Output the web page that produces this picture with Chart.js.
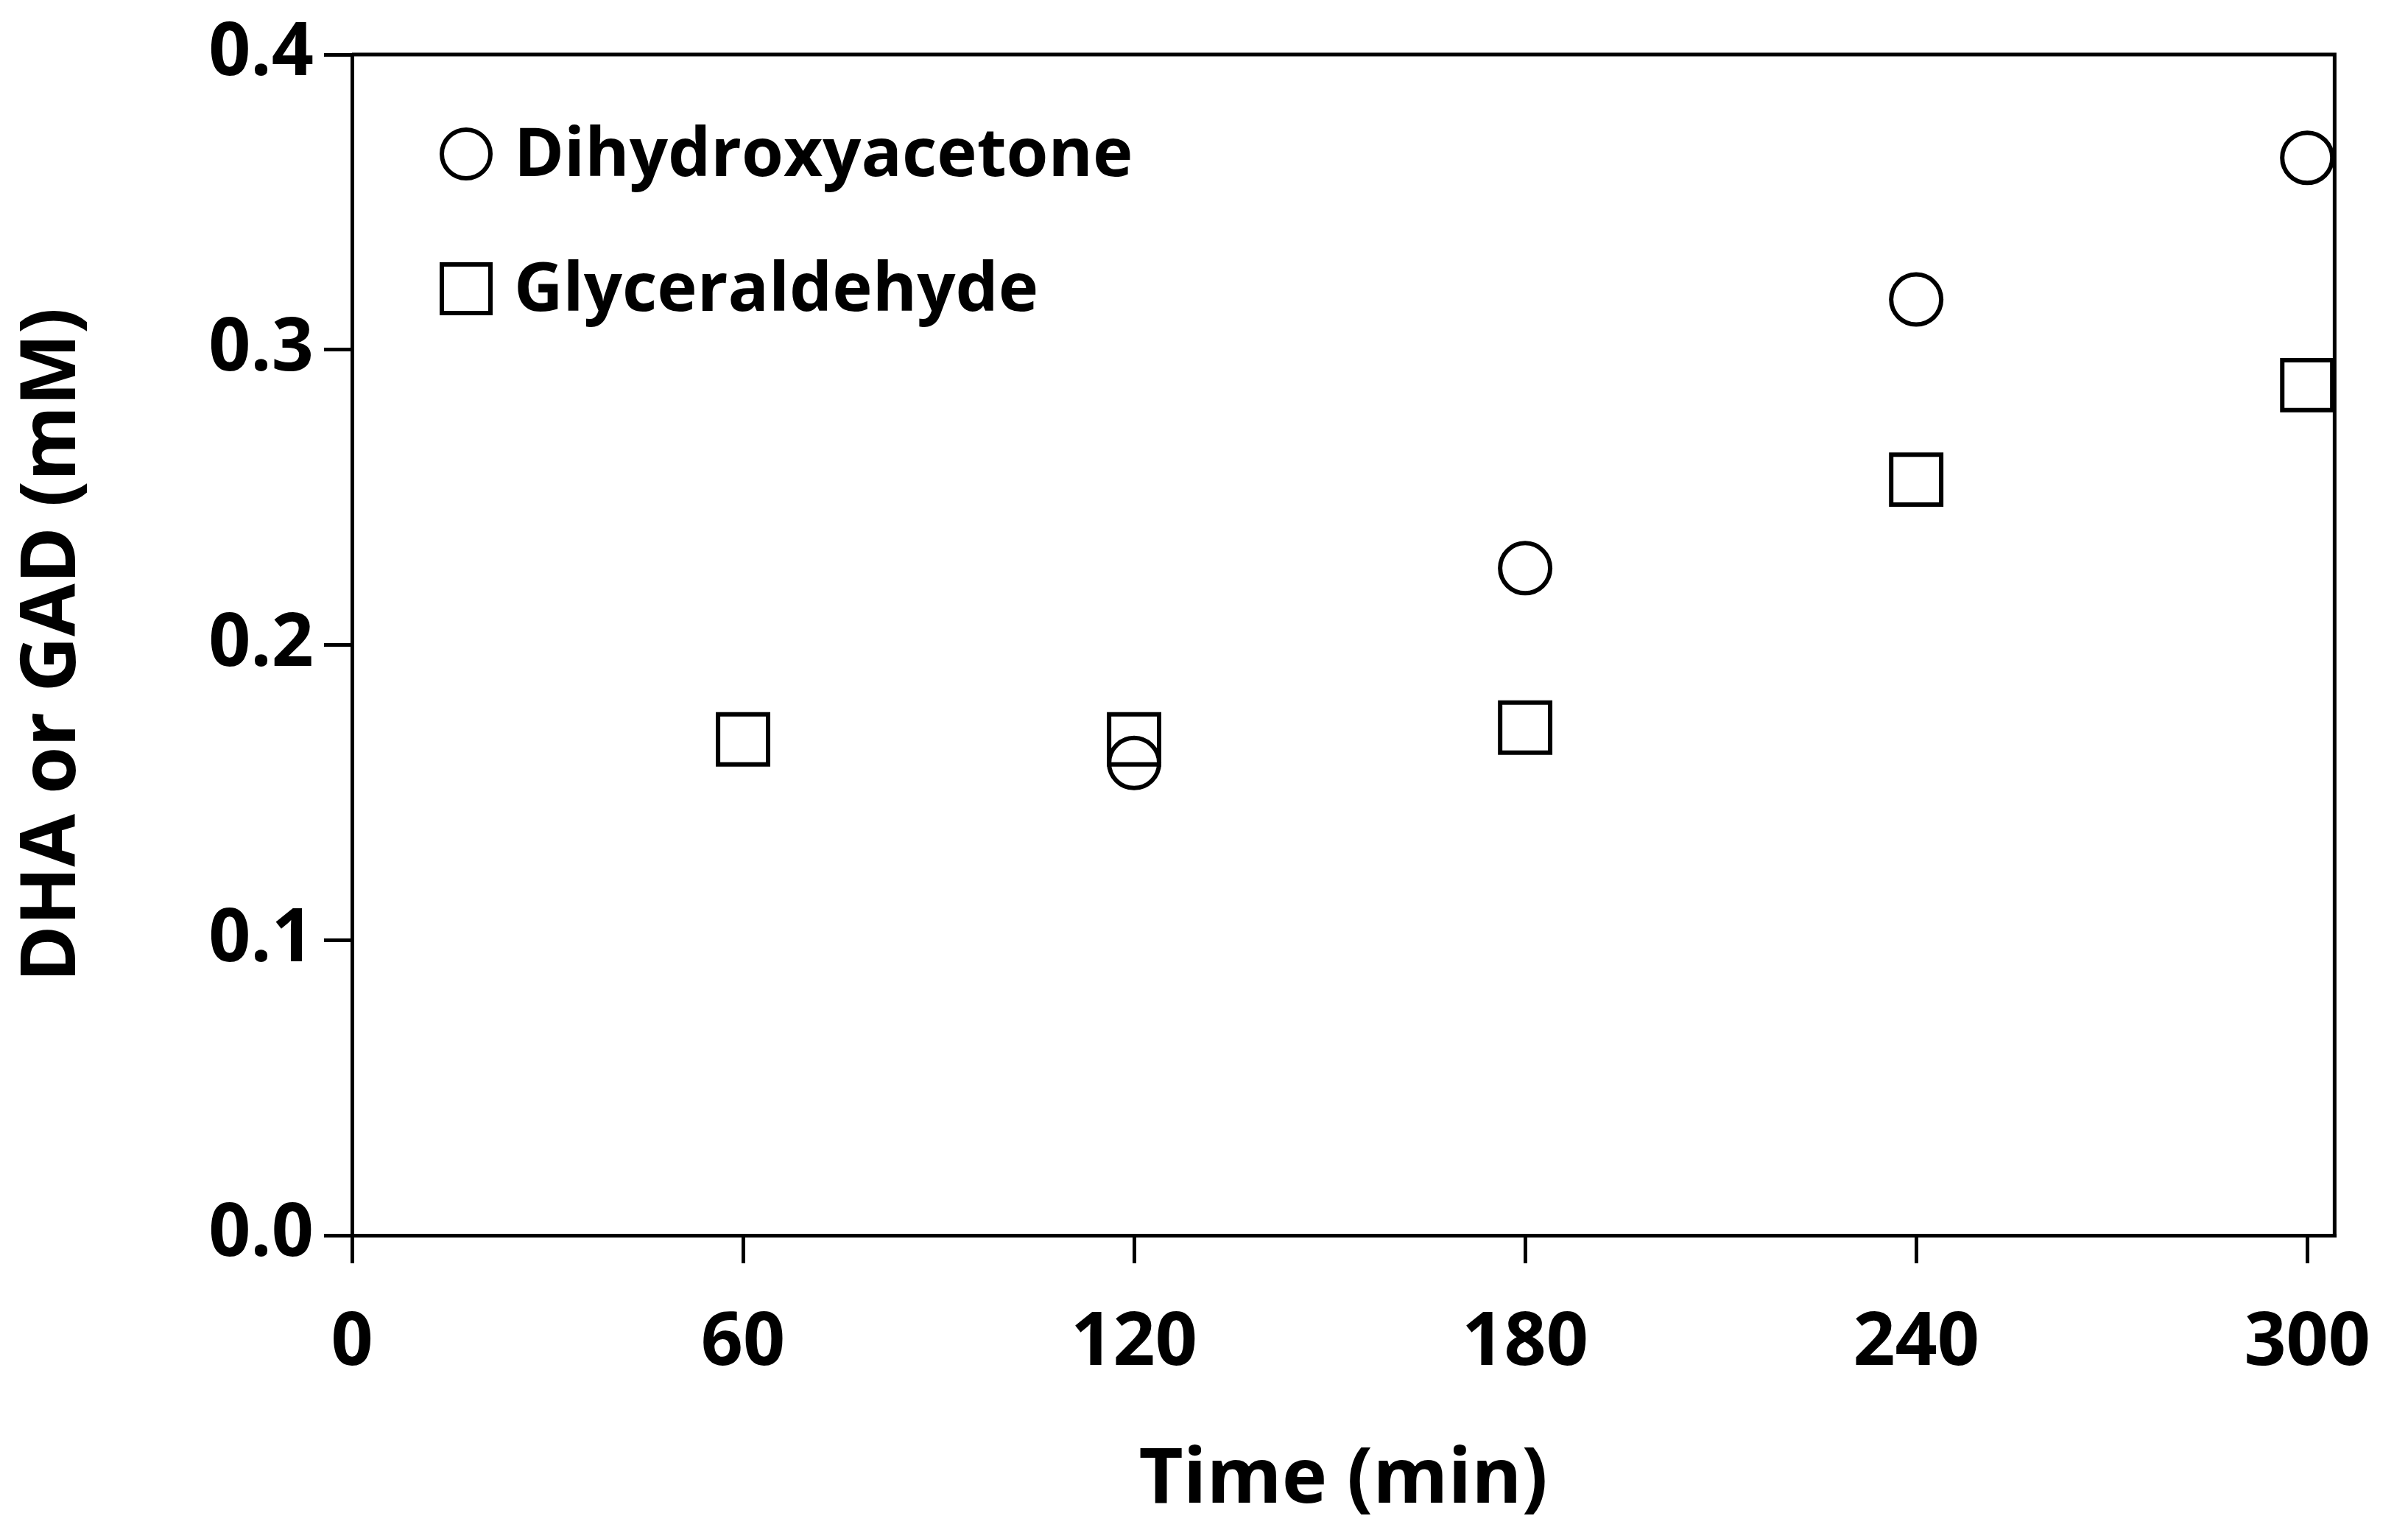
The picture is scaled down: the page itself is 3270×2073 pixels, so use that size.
<!DOCTYPE html>
<html><head><meta charset="utf-8">
<script src="https://cdn.jsdelivr.net/npm/chart.js@4/dist/chart.umd.min.js"></script>
<style>html,body{margin:0;padding:0;background:#fff}#wrap{width:3270px;height:2073px}</style>
</head><body><div id="wrap"><canvas id="c"></canvas></div>
<script>
const dhaTimes = [120, 180, 240, 300];
const dhaValues = [0.160, 0.226, 0.317, 0.365];
const gadTimes = [60, 120, 180, 240, 300];
const gadValues = [0.168, 0.168, 0.172, 0.256, 0.288];
const xTicks = [0, 60, 120, 180, 240, 300];
const yTicks = [0.0, 0.1, 0.2, 0.3, 0.4];
const seriesNames = ['Dihydroxyacetone', 'Glyceraldehyde'];

const FONT = '"Open Sans", "Liberation Sans", sans-serif';
const legendPlugin = {
  id: 'insideLegend',
  afterDraw(chart) {
    const ctx = chart.ctx, a = chart.chartArea;
    ctx.save();
    ctx.font = 'bold 92px ' + FONT;
    ctx.textBaseline = 'middle';
    ctx.fillStyle = '#000';
    ctx.strokeStyle = '#000';
    ctx.lineWidth = 6;
    const x0 = a.left + 155;
    const ys = [a.top + 135, a.top + 318];
    ctx.beginPath(); ctx.arc(x0, ys[0], 33, 0, Math.PI * 2); ctx.stroke();
    ctx.strokeRect(x0 - 33, ys[1] - 33, 66, 66);
    ctx.fillText(seriesNames[0], x0 + 65, ys[0] + 4);
    ctx.fillText(seriesNames[1], x0 + 65, ys[1] + 4);
    ctx.restore();
  }
};

new Chart(document.getElementById('c'), {
  type: 'scatter',
  data: {
    datasets: [
      { label: seriesNames[0], data: dhaTimes.map((t, i) => ({x: t, y: dhaValues[i]})),
        pointStyle: 'circle', pointRadius: 34, pointHoverRadius: 34, borderColor: '#000', backgroundColor: 'rgba(0,0,0,0)', borderWidth: 6 },
      { label: seriesNames[1], data: gadTimes.map((t, i) => ({x: t, y: gadValues[i]})),
        pointStyle: 'rect', pointRadius: 48, pointHoverRadius: 48, borderColor: '#000', backgroundColor: 'rgba(0,0,0,0)', borderWidth: 6 }
    ]
  },
  options: {
    responsive: true, maintainAspectRatio: false, animation: false,
    devicePixelRatio: 1,
    layout: { padding: { top: 46, right: 75, left: 0, bottom: 0 } },
    plugins: { legend: { display: false }, tooltip: { enabled: false } },
    scales: {
      x: {
        type: 'linear', min: 0, max: 304.2,
        afterBuildTicks: s => { s.ticks = xTicks.map(v => ({value: v})); },
        afterFit: s => { s.height = 396; },
        grid: { display: true, drawOnChartArea: false, drawTicks: true, tickLength: 38, color: '#000', lineWidth: 5 },
        border: { display: true, color: '#000', width: 5 },
        ticks: { color: '#000', font: { size: 100, weight: 'bold', family: FONT }, padding: 50, maxRotation: 0 },
        title: { display: true, text: 'Time (min)', color: '#000', font: { size: 104, weight: 'bold', family: FONT }, padding: { top: 0, bottom: 0 } }
      },
      y: {
        min: 0, max: 0.4,
        afterBuildTicks: s => { s.ticks = yTicks.map(v => ({value: v})); },
        afterFit: s => { s.width = 478; },
        grid: { display: true, drawOnChartArea: false, drawTicks: true, tickLength: 38, color: '#000', lineWidth: 5 },
        border: { display: true, color: '#000', width: 5 },
        ticks: { color: '#000', font: { size: 100, weight: 'bold', family: FONT }, padding: 14, callback: v => v.toFixed(1) },
        title: { display: true, text: 'DHA or GAD (mM)', color: '#000', font: { size: 104, weight: 'bold', family: FONT }, padding: { top: 10, bottom: 10 } }
      }
    }
  },
  plugins: [legendPlugin, {
    id: 'frame',
    afterDraw(chart) {
      const ctx = chart.ctx, a = chart.chartArea;
      ctx.save(); ctx.strokeStyle = '#000'; ctx.lineWidth = 5;
      ctx.beginPath(); ctx.moveTo(a.left, a.top); ctx.lineTo(a.right, a.top); ctx.lineTo(a.right, a.bottom); ctx.stroke();
      ctx.restore();
    }
  }]
});
</script></body></html>
